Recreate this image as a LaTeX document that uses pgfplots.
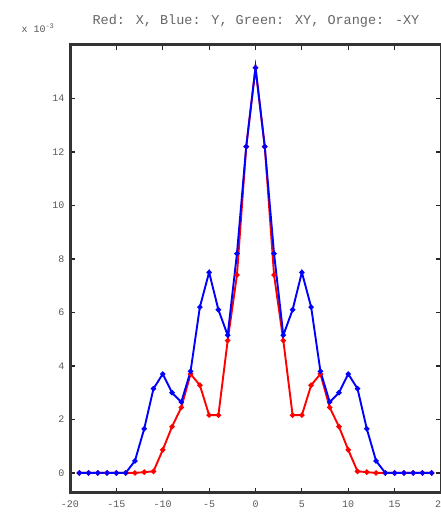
\documentclass[border=0pt]{standalone}
\usepackage{pgfplots}
\pgfplotsset{compat=1.18}
\usepackage{fontspec}
\setmainfont{Liberation Sans}
\newfontfamily\monof{Liberation Mono}
\begin{document}
\begin{tikzpicture}
\useasboundingbox (0,0) rectangle (441pt,522pt);
\begin{axis}[
  at={(70pt,29pt)}, anchor=south west,
  width=371pt, height=448pt, scale only axis,
  xmin=-20, xmax=20, ymin=-0.75, ymax=16,
  xtick={-20,-15,...,20}, ytick={0,2,...,14},
  tick align=inside, major tick length=5pt,
  axis line style={line width=2.2pt, black!70},
  every tick/.style={black!85, line width=1.2pt},
  ticklabel style={font=\monof\fontsize{10}{10}\selectfont, text=black!65},
  /pgf/number format/assume math mode=true,
  xticklabel style={yshift=-4pt},
  yticklabel style={xshift=-2pt},
  clip=false,
]
\addplot[red, line width=1.9pt, mark=*, mark size=1.6pt, mark options={fill=red!55!black, draw=none}] coordinates {
(-19,0)(-18,0)(-17,0)(-16,0)(-15,0)(-14,0)(-13,0)(-12,0.03)(-11,0.06)
(-10,0.86)(-9,1.73)(-8,2.45)(-7,3.7)(-6,3.28)(-5,2.16)(-4,2.16)(-3,4.95)(-2,7.4)(-1,12.2)
(0,15.15)
(1,12.2)(2,7.4)(3,4.95)(4,2.16)(5,2.16)(6,3.28)(7,3.7)(8,2.45)(9,1.73)(10,0.86)
(11,0.06)(12,0.03)(13,0)(14,0)(15,0)(16,0)(17,0)(18,0)(19,0)
};
\addplot[blue, line width=1.9pt, mark=*, mark size=1.6pt, mark options={fill=red!75!black, draw=none}] coordinates {
(-19,0)(-18,0)(-17,0)(-16,0)(-15,0)(-14,0)(-13,0.45)(-12,1.65)(-11,3.15)
(-10,3.7)(-9,3.0)(-8,2.65)(-7,3.8)(-6,6.2)(-5,7.5)(-4,6.1)(-3,5.15)(-2,8.2)(-1,12.2)
(0,15.15)
(1,12.2)(2,8.2)(3,5.15)(4,6.1)(5,7.5)(6,6.2)(7,3.8)(8,2.65)(9,3.0)(10,3.7)
(11,3.15)(12,1.65)(13,0.45)(14,0)(15,0)(16,0)(17,0)(18,0)(19,0)
};
\end{axis}
\draw[line width=3pt, black!80] (70pt,29pt) rectangle (441pt,477pt);
\node[font=\monof\fontsize{13.5}{14}\selectfont, text=black!60] at (256pt,501pt) {Red: X, Blue: Y, Green: XY, Orange: -XY};
\node[font=\monof\fontsize{10}{10}\selectfont, text=black!65, anchor=west] at (18pt,494pt) {x 10\raisebox{4pt}{\fontsize{7}{7}\selectfont -3}};
\end{tikzpicture}
\end{document}
